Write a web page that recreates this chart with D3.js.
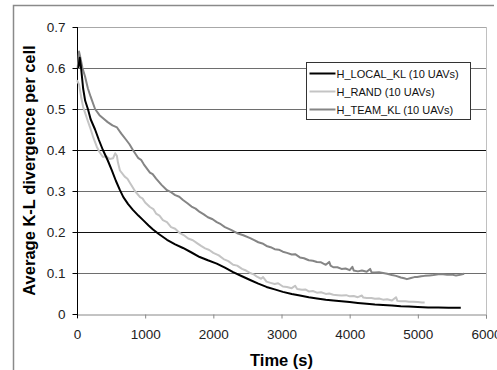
<!DOCTYPE html>
<html lang="en">
  <head>
    <meta charset="utf-8">
    <style>
      body { margin: 0; background: #fff; }
      svg text { font-family: "Liberation Sans", Arial, sans-serif; }
    </style>
  </head>
  <body>
    <div id="viz"></div>
    <script src="https://d3js.org/d3.v7.min.js"></script>
<script type="text/javascript">

var w = 497, h = 370;

// [time (s), average K-L divergence per cell]
var hLocal = [
  [20,0.60],[40,0.625],[60,0.60],[90,0.55],[120,0.52],[160,0.50],[200,0.475],[265,0.45],
  [320,0.425],[380,0.40],[450,0.375],[510,0.351],[570,0.325],[630,0.302],[680,0.285],[750,0.268],
  [820,0.254],[900,0.24],[970,0.229],[1050,0.216],[1115,0.206],[1200,0.195],[1320,0.181],[1440,0.17],
  [1555,0.161],[1680,0.15],[1800,0.139],[1920,0.131],[2050,0.123],[2170,0.113],[2290,0.102],
  [2420,0.092],[2540,0.083],[2660,0.074],[2780,0.066],[2900,0.06],[3020,0.054],[3150,0.049],
  [3270,0.045],[3400,0.041],[3520,0.038],[3650,0.035],[3760,0.033],[3880,0.031],[4000,0.029],
  [4120,0.027],[4250,0.025],[4370,0.023],[4490,0.022],[4620,0.021],[4750,0.019],[4870,0.018],
  [5000,0.017],[5150,0.016],[5300,0.016],[5450,0.015],[5630,0.015]
];

var hRand = [
  [0,0.57],[30,0.56],[60,0.53],[90,0.505],[120,0.49],[160,0.47],[190,0.456],[240,0.43],
  [290,0.408],[330,0.395],[380,0.383],[430,0.385],[480,0.378],[530,0.38],[560,0.392],[585,0.386],
  [600,0.37],[630,0.35],[700,0.335],[740,0.33],[780,0.319],[850,0.30],[925,0.285],[960,0.282],
  [1000,0.272],[1070,0.261],[1120,0.256],[1160,0.245],[1210,0.24],[1260,0.229],[1320,0.224],
  [1380,0.212],[1440,0.208],[1510,0.197],[1570,0.192],[1630,0.184],[1700,0.18],[1760,0.173],
  [1820,0.166],[1880,0.16],[1940,0.156],[2000,0.149],[2080,0.143],[2150,0.134],[2220,0.129],
  [2290,0.12],[2350,0.118],[2420,0.11],[2480,0.106],[2540,0.1],[2600,0.096],[2640,0.091],
  [2700,0.086],[2730,0.09],[2780,0.079],[2840,0.076],[2900,0.073],[2950,0.075],[3020,0.067],
  [3080,0.066],[3150,0.063],[3200,0.069],[3230,0.061],[3300,0.059],[3350,0.06],[3400,0.055],
  [3460,0.056],[3520,0.052],[3580,0.053],[3650,0.049],[3700,0.05],[3760,0.047],[3830,0.046],
  [3880,0.045],[3950,0.046],[4000,0.043],[4060,0.044],[4120,0.041],[4180,0.045],[4200,0.04],
  [4250,0.039],[4320,0.039],[4370,0.037],[4430,0.038],[4490,0.035],[4550,0.036],[4620,0.033],
  [4680,0.041],[4700,0.032],[4750,0.031],[4820,0.031],[4870,0.03],[4930,0.03],[5000,0.029],
  [5060,0.028],[5100,0.028]
];

var hTeam = [
  [10,0.60],[30,0.64],[50,0.625],[80,0.60],[117,0.58],[160,0.55],[200,0.53],[265,0.50],
  [330,0.485],[400,0.475],[450,0.468],[520,0.46],[587,0.455],[650,0.44],[720,0.425],[770,0.414],
  [820,0.40],[900,0.38],[940,0.376],[980,0.365],[1070,0.345],[1110,0.341],[1160,0.33],[1240,0.315],
  [1320,0.302],[1380,0.297],[1440,0.29],[1500,0.286],[1555,0.278],[1620,0.27],[1680,0.262],
  [1740,0.257],[1800,0.249],[1860,0.243],[1920,0.236],[1990,0.231],[2050,0.224],[2110,0.219],
  [2170,0.212],[2260,0.205],[2350,0.197],[2440,0.192],[2540,0.185],[2600,0.18],[2660,0.175],
  [2720,0.172],[2780,0.166],[2840,0.163],[2900,0.158],[2960,0.157],[3020,0.152],[3080,0.149],
  [3150,0.145],[3200,0.146],[3270,0.138],[3330,0.136],[3400,0.131],[3460,0.13],[3520,0.127],
  [3580,0.126],[3650,0.12],[3700,0.127],[3720,0.118],[3760,0.114],[3820,0.114],[3880,0.11],
  [3940,0.111],[4000,0.107],[4040,0.115],[4060,0.106],[4120,0.104],[4180,0.106],[4250,0.103],
  [4300,0.11],[4320,0.102],[4370,0.101],[4430,0.102],[4490,0.1],[4550,0.098],[4620,0.095],
  [4680,0.093],[4750,0.089],[4800,0.087],[4840,0.085],[4900,0.088],[4950,0.09],[4990,0.09],
  [5050,0.092],[5100,0.093],[5170,0.094],[5230,0.095],[5300,0.097],[5370,0.097],[5430,0.096],
  [5500,0.096],[5560,0.094],[5600,0.095],[5650,0.097],[5680,0.098]
];

var seriesNames = ["H_LOCAL_KL (10 UAVs)", "H_RAND (10 UAVs)", "H_TEAM_KL (10 UAVs)"];
var seriesColors = ["#000000", "#c4c4c4", "#858585"];
var xTicks = [0, 1000, 2000, 3000, 4000, 5000, 6000];
var yTicks = [0, 0.1, 0.2, 0.3, 0.4, 0.5, 0.6, 0.7];
var darkGrid = [0.2, 0.4];

var svg = d3.select("#viz")
        .append("svg")
        .attr("width", w)
        .attr("height", h);

var pLeft = 77, pRight = 486, pTop = 27, pBottom = 314;

var x = d3.scaleLinear().domain([0, 6000]).range([pLeft, pRight]);
var y = d3.scaleLinear().domain([0, 0.7]).range([pBottom, pTop]);

// outer frame (left and top edges only visible)
svg.append("path")
  .attr("d", "M13.5,370 L13.5,5.5 L494,5.5")
  .attr("fill", "none")
  .style("stroke", "#8a8a8a")
  .style("stroke-width", 1.5);

// gridlines
svg.selectAll(".grid")
  .data(yTicks.filter(d => d > 0))
  .enter().append("line")
  .attr("class", "grid")
  .attr("x1", pLeft).attr("x2", pRight)
  .attr("y1", d => Math.round(y(d)) + 0.5)
  .attr("y2", d => Math.round(y(d)) + 0.5)
  .style("stroke", d => d === 0.7 ? "#a8a8a8" : (darkGrid.indexOf(d) >= 0 ? "#111" : "#6e6e6e"));

// right border of plot area
svg.append("line")
  .attr("x1", pRight + 0.5).attr("x2", pRight + 0.5)
  .attr("y1", pTop).attr("y2", pBottom)
  .style("stroke", "#c0c0c0");

// x axis
var xAxis = svg.append("g")
  .attr("transform", "translate(0," + (pBottom + 0.5) + ")")
  .call(d3.axisBottom(x).tickValues(xTicks).tickSize(4).tickFormat(d3.format("d")));
xAxis.select(".domain").style("stroke", "#888");
xAxis.selectAll(".tick line").style("stroke", "#888");
xAxis.selectAll(".tick text")
  .attr("y", 15)
  .style("font-size", "13.5px")
  .style("fill", "#222");

// y axis
var yAxis = svg.append("g")
  .attr("transform", "translate(" + (pLeft + 0.5) + ",0)")
  .call(d3.axisLeft(y).tickValues(yTicks).tickSize(5).tickFormat(d => d === 0 ? "0" : d3.format(".1f")(d)));
yAxis.select(".domain").attr("d", "M0," + pTop + "V" + (pBottom + 4)).style("stroke", "#000");
yAxis.selectAll(".tick line").style("stroke", "#000");
yAxis.selectAll(".tick text")
  .attr("x", -12)
  .style("font-size", "13.5px")
  .style("fill", "#222");

// lines
var line = d3.line()
  .x(d => x(d[0]))
  .y(d => y(d[1]));

var allSeries = [hTeam, hRand, hLocal];
var allColors = [seriesColors[2], seriesColors[1], seriesColors[0]];

svg.selectAll(".series")
  .data(allSeries)
  .enter().append("path")
  .attr("class", "series")
  .attr("d", line)
  .attr("fill", "none")
  .style("stroke", (d, i) => allColors[i])
  .style("stroke-width", 2)
  .style("stroke-linejoin", "round");

// axis titles
svg.append("text")
  .attr("transform", "translate(35," + ((pTop + pBottom) / 2) + ") rotate(-90)")
  .attr("text-anchor", "middle")
  .style("font-size", "16.5px")
  .style("font-weight", "bold")
  .text("Average K-L divergence per cell");

svg.append("text")
  .attr("x", (pLeft + pRight) / 2)
  .attr("y", 366)
  .attr("text-anchor", "middle")
  .style("font-size", "16.5px")
  .style("font-weight", "bold")
  .text("Time (s)");

// legend
var legend = svg.append("g").attr("transform", "translate(306.5,62.5)");
legend.append("rect")
  .attr("width", 164).attr("height", 57)
  .attr("fill", "#fff")
  .style("stroke", "#333");

var rows = legend.selectAll(".row")
  .data(seriesNames)
  .enter().append("g")
  .attr("class", "row")
  .attr("transform", (d, i) => "translate(0," + (11 + i * 18) + ")");

rows.append("line")
  .attr("x1", 3).attr("x2", 29)
  .attr("y1", 0).attr("y2", 0)
  .style("stroke", (d, i) => seriesColors[i])
  .style("stroke-width", 2);

rows.append("text")
  .attr("x", 30)
  .attr("y", 4)
  .style("font-size", "11px")
  .style("fill", "#111")
  .text(d => d);

</script>
  </body>
</html>
